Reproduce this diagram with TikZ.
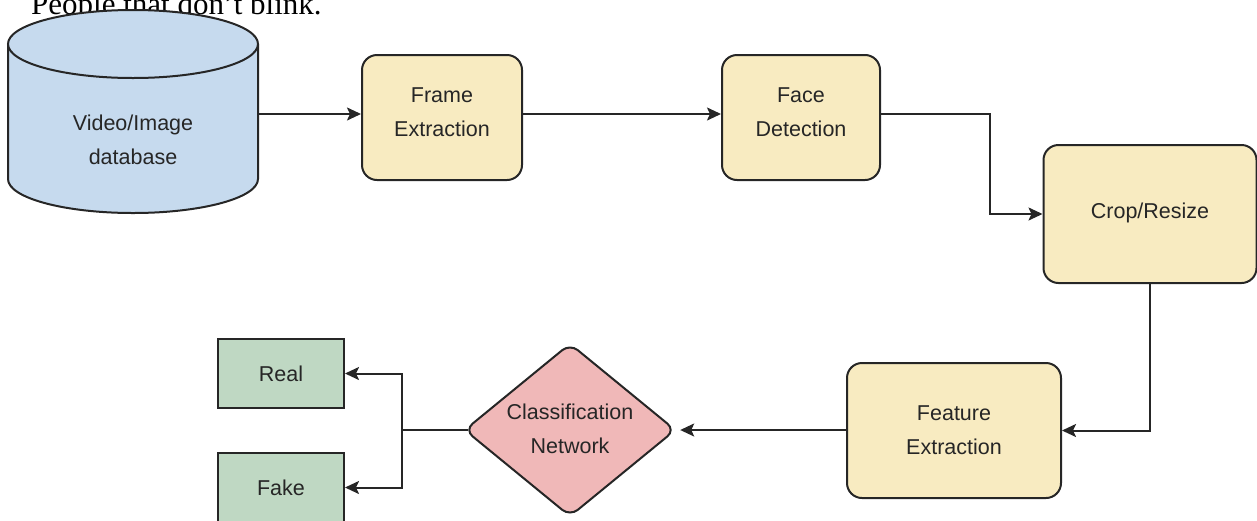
\documentclass[tikz,border=0pt]{standalone}
\usepackage{fontspec}
\setmainfont{Liberation Sans}
\newfontfamily\captionserif{Liberation Serif}
\usetikzlibrary{arrows.meta}

\definecolor{dbfill}{HTML}{C6DAEE}
\definecolor{stepfill}{HTML}{F8EBC1}
\definecolor{outfill}{HTML}{BFD8C3}
\definecolor{clsfill}{HTML}{F0B8B8}
\definecolor{edge}{HTML}{262626}
\definecolor{ink}{HTML}{262626}

\tikzset{
  outline/.style={draw=edge, line width=2pt},
  stepbox/.style={outline, fill=stepfill, rounded corners=15pt, inner sep=0pt},
  resultbox/.style={outline, fill=outfill, inner sep=0pt,
    minimum width=126pt, minimum height=69pt, text=ink,
    font=\fontsize{21.5}{34}\selectfont},
  labeltext/.style={align=center, text=ink, inner sep=0pt,
    font=\fontsize{21.5}{34}\selectfont},
  link/.style={draw=edge, line width=2pt},
  flow/.style={link, -{Stealth[length=14pt,width=13pt,inset=3pt]}},
}

\begin{document}
\begin{tikzpicture}[x=1pt, y=-1pt]
\useasboundingbox (0,0) rectangle (1257,520);
\clip (0,0) rectangle (1257,520);

% caption line running off the top edge
\node[anchor=base west, inner sep=0pt, font=\captionserif\fontsize{31}{36}\selectfont]
  (caption) at (31,14) {People that don’t blink.};

% database cylinder
\fill[dbfill] (8,44) -- (8,179)
  arc[start angle=180, end angle=0, x radius=125, y radius=34] -- (258,44) -- cycle;
\draw[outline] (8,44) -- (8,179)
  arc[start angle=180, end angle=0, x radius=125, y radius=34] -- (258,44);
\draw[outline, fill=dbfill] (133,44) ellipse[x radius=125, y radius=34];
\node[inner sep=0pt, minimum width=250pt, minimum height=130pt] (db) at (133,114) {};
\node[labeltext] (dblabel) at (133,140) {Video/Image\\database};

% processing steps (box, then its label)
\node[stepbox, minimum width=160pt, minimum height=125pt] (frame) at (442,117.5) {};
\node[labeltext] (framelabel) at (442,112) {Frame\\Extraction};
\node[stepbox, minimum width=158pt, minimum height=125pt] (face) at (801,117.5) {};
\node[labeltext] (facelabel) at (801,112) {Face\\Detection};
\node[stepbox, minimum width=213pt, minimum height=138pt] (crop) at (1150,214) {};
\node[labeltext] (croplabel) at (1150,213) {Crop/Resize};
\node[stepbox, minimum width=214pt, minimum height=135pt] (feature) at (954,430.5) {};
\node[labeltext] (featurelabel) at (954,430) {Feature\\Extraction};

% classification decision
\node[inner sep=0pt, minimum width=210pt, minimum height=172pt] (cls) at (570,430) {};
\draw[outline, fill=clsfill, rounded corners=10pt]
  (cls.north) -- (cls.east) -- (cls.south) -- (cls.west) -- cycle;
\node[labeltext] (clslabel) at (570,429) {Classification\\Network};

% outcomes
\node[resultbox] (real) at (281,373.5) {Real};
\node[resultbox] (fake) at (281,487.5) {Fake};

% connectors
\coordinate (turn) at (990,0);
\coordinate (split) at (402,430);
\draw[flow] (db.east) -- (frame.west |- db.east);
\draw[flow] (frame.east |- db.east) -- (face.west |- db.east);
\draw[flow] (face.east |- db.east) -- (turn |- db.east) |- (crop.west);
\draw[flow] (crop.south) |- (feature.east);
\draw[flow] (feature.west |- cls.east) -- ([xshift=5pt]cls.east);
\draw[link] ([xshift=3pt]cls.west) -- (split);
\draw[flow] (split) |- (real.east);
\draw[flow] (split) |- (fake.east);
\end{tikzpicture}
\end{document}
